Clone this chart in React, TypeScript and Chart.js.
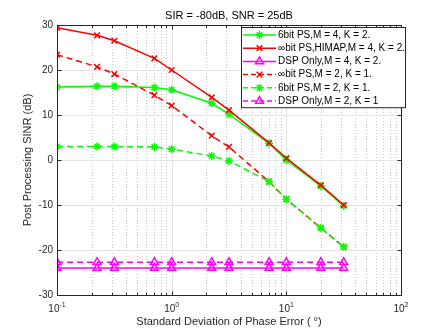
import React, { useEffect, useRef } from "react";
import { Chart, registerables } from "chart.js";
import { drawPoint } from "chart.js/helpers";

Chart.register(...registerables);

const phaseStd = [0.1, 0.2236, 0.3162, 0.7071, 1, 2.236, 3.162, 7.071, 10, 20, 31.62];

const sixBitM4 = [16.2, 16.4, 16.4, 16.1, 15.6, 12.6, 10.2, 3.7, 0.0, -5.8, -10.2];
const infBitHimapM4 = [29.4, 27.7, 26.5, 22.6, 20.0, 13.9, 11.1, 3.8, 0.4, -5.6, -10.0];
const dspOnlyM4 = [-24, -24, -24, -24, -24, -24, -24, -24, -24, -24, -24];
const infBitM2 = [23.4, 20.7, 19.1, 14.4, 12.1, 5.4, 2.9, -4.8, -8.7, -15.1, -19.3];
const sixBitM2 = [3.0, 3.0, 3.0, 2.9, 2.4, 0.9, -0.2, -4.8, -8.7, -15.1, -19.3];
const dspOnlyM2 = [-22.7, -22.7, -22.7, -22.7, -22.7, -22.7, -22.7, -22.7, -22.7, -22.7, -22.7];

const seriesLabels = [
  "6bit PS,M = 4, K = 2.",
  "\u221Ebit PS,HIMAP,M = 4, K = 2.",
  "DSP Only,M = 4, K = 2.",
  "\u221Ebit PS,M = 2, K = 1.",
  "6bit PS,M = 2, K = 1.",
  "DSP Only,M = 2, K = 1",
];

const yTicks = [-30, -20, -10, 0, 10, 20, 30];
const xDecades = [-1, 0, 1, 2];

const titleText = "SIR = -80dB, SNR = 25dB";
const xTitle = "Standard Deviation of Phase Error ( \u00B0)";
const yTitle = "Post Processing SINR (dB)";

const GREEN = "#00ff00";
const RED = "#ff0000";
const MAGENTA = "#ff00ff";
const AXIS = "#262626";
const FONT = "'Liberation Sans', Arial, sans-serif";

type Style = { color: string; dash: number[]; point: string; radius: number };

const styles: Style[] = [
  { color: GREEN, dash: [], point: "star", radius: 4 },
  { color: RED, dash: [], point: "crossRot", radius: 4 },
  { color: MAGENTA, dash: [], point: "triangle", radius: 4.5 },
  { color: RED, dash: [6, 4], point: "crossRot", radius: 4 },
  { color: GREEN, dash: [6, 4], point: "star", radius: 4 },
  { color: MAGENTA, dash: [6, 4], point: "triangle", radius: 4.5 },
];

const seriesData = [sixBitM4, infBitHimapM4, dspOnlyM4, infBitM2, sixBitM2, dspOnlyM2];

const decorPlugin = {
  id: "matlabDecor",
  beforeDatasetsDraw(chart: any) {
    const { ctx, chartArea: a, scales } = chart;
    const xs = scales.x;
    const ys = scales.y;
    ctx.save();
    ctx.strokeStyle = "rgba(0,0,0,0.22)";
    ctx.lineWidth = 1;
    ctx.setLineDash([1, 2]);
    for (const d of xDecades.slice(0, -1)) {
      for (let k = 2; k <= 9; k++) {
        const px = Math.round(xs.getPixelForValue(k * Math.pow(10, d))) + 0.5;
        ctx.beginPath();
        ctx.moveTo(px, a.top);
        ctx.lineTo(px, a.bottom);
        ctx.stroke();
      }
    }
    ctx.setLineDash([]);
    ctx.strokeStyle = "#e3e3e3";
    for (const d of xDecades) {
      const px = Math.round(xs.getPixelForValue(Math.pow(10, d))) + 0.5;
      ctx.beginPath();
      ctx.moveTo(px, a.top);
      ctx.lineTo(px, a.bottom);
      ctx.stroke();
    }
    for (const v of yTicks) {
      const py = Math.round(ys.getPixelForValue(v)) + 0.5;
      ctx.beginPath();
      ctx.moveTo(a.left, py);
      ctx.lineTo(a.right, py);
      ctx.stroke();
    }
    ctx.restore();
  },
  afterDatasetsDraw(chart: any) {
    const { ctx, chartArea: a, scales } = chart;
    const xs = scales.x;
    const ys = scales.y;
    const L = Math.round(a.left) + 0.5;
    const R = Math.round(a.right) + 0.5;
    const T = Math.round(a.top) + 0.5;
    const B = Math.round(a.bottom) + 0.5;
    ctx.save();
    ctx.strokeStyle = AXIS;
    ctx.lineWidth = 1;
    ctx.setLineDash([]);
    ctx.strokeRect(L, T, R - L, B - T);
    const tick = (x1: number, y1: number, x2: number, y2: number) => {
      ctx.beginPath();
      ctx.moveTo(x1, y1);
      ctx.lineTo(x2, y2);
      ctx.stroke();
    };
    for (const d of xDecades) {
      const px = Math.round(xs.getPixelForValue(Math.pow(10, d))) + 0.5;
      tick(px, B, px, B - 4);
      tick(px, T, px, T + 4);
      if (d < xDecades[xDecades.length - 1]) {
        for (let k = 2; k <= 9; k++) {
          const mx = Math.round(xs.getPixelForValue(k * Math.pow(10, d))) + 0.5;
          tick(mx, B, mx, B - 2.5);
          tick(mx, T, mx, T + 2.5);
        }
      }
    }
    for (const v of yTicks) {
      const py = Math.round(ys.getPixelForValue(v)) + 0.5;
      tick(L, py, L + 4, py);
      tick(R, py, R - 4, py);
    }
    ctx.fillStyle = AXIS;
    ctx.font = `10px ${FONT}`;
    ctx.textAlign = "right";
    ctx.textBaseline = "middle";
    for (const v of yTicks) {
      ctx.fillText(String(v), a.left - 4, ys.getPixelForValue(v));
    }
    for (const d of xDecades) {
      const px = xs.getPixelForValue(Math.pow(10, d));
      ctx.font = `10px ${FONT}`;
      const baseW = ctx.measureText("10").width;
      ctx.font = `7px ${FONT}`;
      const expS = String(d);
      const expW = ctx.measureText(expS).width;
      const start = px - (baseW + expW) / 2;
      ctx.textAlign = "left";
      ctx.textBaseline = "alphabetic";
      ctx.font = `10px ${FONT}`;
      ctx.fillText("10", start, a.bottom + 17);
      ctx.font = `7px ${FONT}`;
      ctx.fillText(expS, start + baseW, a.bottom + 12);
    }
    const cx = (a.left + a.right) / 2;
    ctx.textAlign = "center";
    ctx.textBaseline = "alphabetic";
    ctx.font = `11px ${FONT}`;
    ctx.fillStyle = "#000000";
    ctx.fillText(titleText, cx, a.top - 6);
    ctx.fillStyle = AXIS;
    ctx.fillText(xTitle, cx, a.bottom + 30);
    ctx.save();
    ctx.translate(27.5, (a.top + a.bottom) / 2);
    ctx.rotate(-Math.PI / 2);
    ctx.textBaseline = "middle";
    ctx.fillText(yTitle, 0, 0);
    ctx.restore();
    const lx = a.right - 160;
    const ly = a.top + 2;
    const rowH = 13.2;
    const lw = 164;
    const lh = rowH * seriesLabels.length + 1;
    ctx.fillStyle = "#ffffff";
    ctx.fillRect(lx, ly, lw, lh);
    ctx.strokeStyle = AXIS;
    ctx.lineWidth = 1;
    ctx.strokeRect(Math.round(lx) + 0.5, Math.round(ly) + 0.5, lw, lh);
    seriesLabels.forEach((label, i) => {
      const st = styles[i];
      const y = ly + 8 + i * rowH;
      ctx.strokeStyle = st.color;
      ctx.lineWidth = 1.5;
      ctx.setLineDash(st.dash.length ? [5, 3] : []);
      ctx.beginPath();
      ctx.moveTo(lx + 2, y);
      ctx.lineTo(lx + 35, y);
      ctx.stroke();
      ctx.setLineDash([]);
      ctx.fillStyle = "rgba(0,0,0,0)";
      drawPoint(
        ctx,
        { pointStyle: st.point, radius: st.radius, borderWidth: 1.5, rotation: 0 } as any,
        lx + 18.5,
        y
      );
      ctx.fillStyle = "#000000";
      ctx.font = `10px ${FONT}`;
      ctx.textAlign = "left";
      ctx.textBaseline = "middle";
      ctx.fillText(label, lx + 37, y);
    });
    ctx.restore();
  },
};

export default function App() {
  const ref = useRef<HTMLCanvasElement | null>(null);
  useEffect(() => {
    if (!ref.current) return;
    const n = seriesData.length;
    const chart = new Chart(ref.current, {
      type: "line",
      data: {
        datasets: seriesData.map((vals, i) => ({
          label: seriesLabels[i],
          data: phaseStd.map((x, j) => ({ x, y: vals[j] })),
          borderColor: styles[i].color,
          backgroundColor: "rgba(0,0,0,0)",
          borderWidth: 1.5,
          borderDash: styles[i].dash,
          pointStyle: styles[i].point as any,
          pointRadius: styles[i].radius,
          pointBorderColor: styles[i].color,
          pointBackgroundColor: "rgba(0,0,0,0)",
          pointBorderWidth: 1.5,
          tension: 0,
          fill: false,
          order: n - 1 - i,
        })),
      },
      options: {
        animation: false,
        responsive: false,
        devicePixelRatio: 1,
        layout: { padding: { left: 57, right: 42, top: 25, bottom: 37 } },
        plugins: {
          legend: { display: false },
          title: { display: false },
          tooltip: { enabled: false },
        },
        scales: {
          x: {
            type: "logarithmic",
            display: false,
            min: 0.1,
            max: 100,
          },
          y: {
            type: "linear",
            display: false,
            min: -30,
            max: 30,
          },
        },
      },
      plugins: [decorPlugin],
    });
    return () => chart.destroy();
  }, []);
  return (
    <div style={{ position: "absolute", left: 0, top: 0, width: 443, height: 332, background: "#fff" }}>
      <canvas ref={ref} width={443} height={332} style={{ width: 443, height: 332 }} />
    </div>
  );
}
